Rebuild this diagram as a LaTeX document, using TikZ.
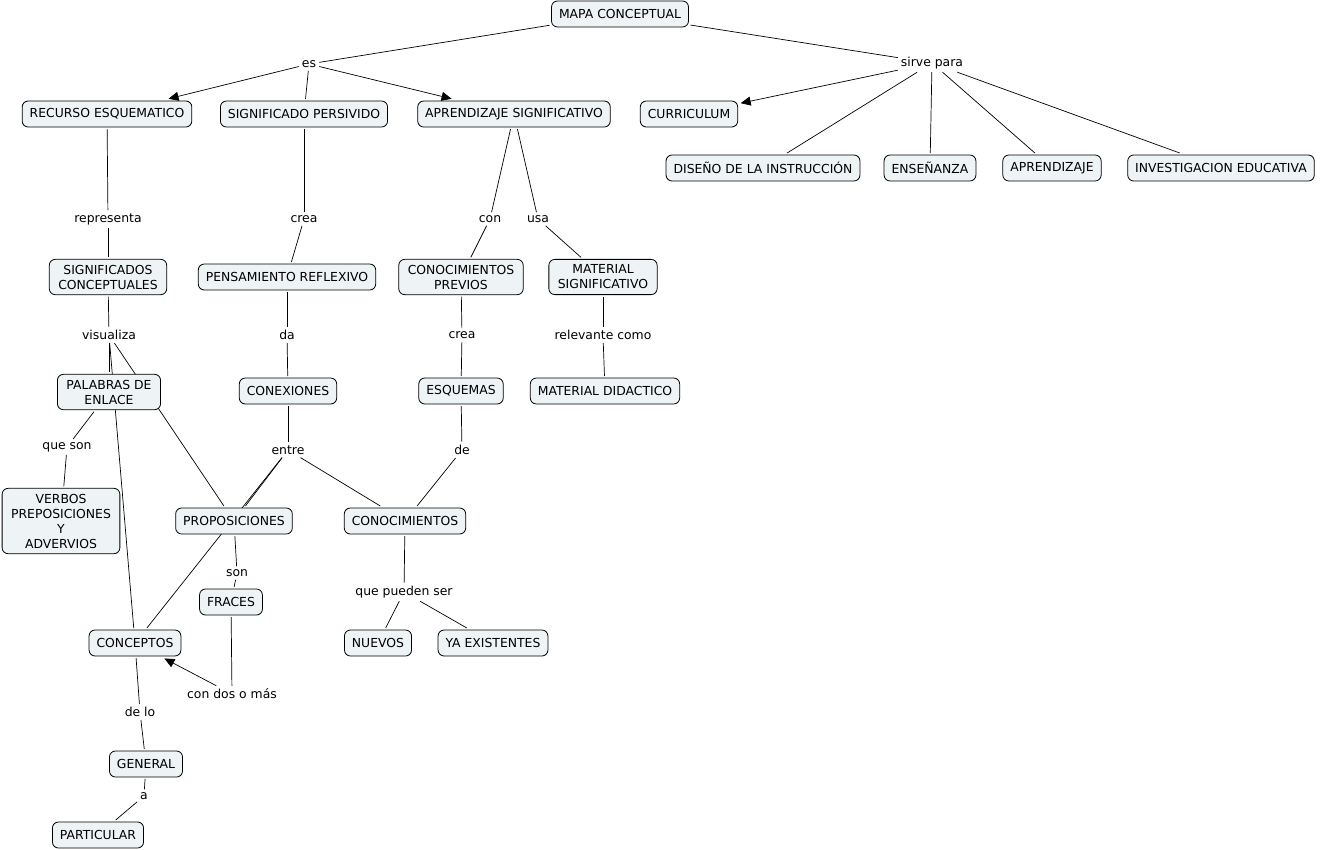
\documentclass[tikz,border=0pt]{standalone}
\usepackage{fontspec}
\setmainfont{DejaVu Sans}
\usetikzlibrary{arrows.meta}
\pgfdeclarelayer{bg}
\pgfsetlayers{bg,main}
\definecolor{cfill}{HTML}{EEF3F5}
\tikzset{
  concept/.style={draw=black, line width=0.8pt, fill=cfill, rounded corners=6pt,
    inner xsep=7.5pt, inner ysep=4pt, minimum height=26pt, outer sep=2pt,
    align=center, font=\fontsize{12.4}{15}\selectfont},
  multi/.style={inner xsep=9pt, inner ysep=5.5pt},
  phrase/.style={inner sep=3pt, yshift=-1pt, font=\fontsize{12.4}{15}\selectfont},
  link/.style={line width=0.7pt, black},
  arr/.style={link, -{Triangle[length=10pt,width=9pt]}, shorten >=1pt}
}
\begin{document}
\begin{tikzpicture}[x=1pt,y=-1pt]
\useasboundingbox (0,0) rectangle (1320,849);
% concepts
\node[concept] (mapa) at (620,14) {MAPA CONCEPTUAL};
\node[concept] (recurso) at (107,114) {RECURSO ESQUEMATICO};
\node[concept] (signif) at (304,114) {SIGNIFICADO PERSIVIDO};
\node[concept] (aprend) at (514,114) {APRENDIZAJE SIGNIFICATIVO};
\node[concept] (curric) at (689,114) {CURRICULUM};
\node[concept] (diseno) at (763,168) {DISEÑO DE LA INSTRUCCIÓN};
\node[concept] (ensen) at (930,168) {ENSEÑANZA};
\node[concept] (aprendizaje) at (1052,168) {APRENDIZAJE};
\node[concept] (invest) at (1221,168) {INVESTIGACION EDUCATIVA};
\node[concept,multi] (sigcon) at (108,277) {SIGNIFICADOS\\CONCEPTUALES};
\node[concept] (pensam) at (287,277) {PENSAMIENTO REFLEXIVO};
\node[concept,multi] (conprev) at (461,277) {CONOCIMIENTOS\\PREVIOS};
\node[concept,multi] (matsig) at (603,277) {MATERIAL\\SIGNIFICATIVO};
\node[concept,multi] (palabras) at (109,392) {PALABRAS DE\\ENLACE};
\node[concept] (conex) at (288,391) {CONEXIONES};
\node[concept] (esquemas) at (461,391) {ESQUEMAS};
\node[concept] (matdid) at (605,391) {MATERIAL DIDACTICO};
\node[concept,multi] (verbos) at (61,521) {VERBOS\\PREPOSICIONES\\Y\\ADVERVIOS};
\node[concept] (propos) at (234,521) {PROPOSICIONES};
\node[concept] (conoc) at (405,521) {CONOCIMIENTOS};
\node[concept] (fraces) at (231,602) {FRACES};
\node[concept] (conceptos) at (135,643) {CONCEPTOS};
\node[concept] (nuevos) at (378,643) {NUEVOS};
\node[concept] (yaex) at (493,643) {YA EXISTENTES};
\node[concept] (general) at (146,764) {GENERAL};
\node[concept] (particular) at (98,835) {PARTICULAR};
% linking phrases
\node[phrase] (es) at (309,63) {es};
\node[phrase] (sirve) at (932,62) {sirve para};
\node[phrase] (representa) at (108,218) {representa};
\node[phrase] (crea1) at (304,218) {crea};
\node[phrase] (con) at (490,218) {con};
\node[phrase] (usa) at (538,218) {usa};
\node[phrase] (visualiza) at (109,334) {visualiza};
\node[phrase] (da) at (287,334) {da};
\node[phrase] (crea2) at (462,334) {crea};
\node[phrase] (relev) at (603,334) {relevante como};
\node[phrase] (queson) at (67,446) {que son};
\node[phrase] (entre) at (288,449) {entre};
\node[phrase] (de) at (462,449) {de};
\node[phrase] (son) at (237,572) {son};
\node[phrase] (quepueden) at (404,591) {que pueden ser};
\node[phrase] (condos) at (232,693) {con dos o más};
\node[phrase] (delo) at (140,711) {de lo};
\node[phrase] (a) at (144,795) {a};
% connectors
\begin{pgfonlayer}{bg}
\draw[link] (mapa) -- (es);
\draw[arr] (es) -- (recurso);
\draw[link] (es) -- (signif);
\draw[arr] (es) -- (aprend);
\draw[link] (mapa) -- (sirve);
\draw[arr] (sirve) -- (curric);
\draw[link] (sirve) -- (diseno);
\draw[link] (sirve) -- (ensen);
\draw[link] (sirve) -- (aprendizaje);
\draw[link] (sirve) -- (invest);
\draw[link] (recurso) -- (representa);
\draw[link] (representa) -- (sigcon);
\draw[link] (signif) -- (crea1);
\draw[link] (crea1) -- (pensam);
\draw[link] (aprend) -- (con);
\draw[link] (con) -- (conprev);
\draw[link] (aprend) -- (usa);
\draw[link] (usa) -- (matsig);
\draw[link] (sigcon) -- (visualiza);
\draw[link] (visualiza) -- (palabras);
\draw[link] (visualiza) -- (conceptos);
\draw[link] (visualiza) -- (propos);
\draw[link] (pensam) -- (da);
\draw[link] (da) -- (conex);
\draw[link] (conprev) -- (crea2);
\draw[link] (crea2) -- (esquemas);
\draw[link] (matsig) -- (relev);
\draw[link] (relev) -- (matdid);
\draw[link] (palabras) -- (queson);
\draw[link] (queson) -- (verbos);
\draw[link] (conex) -- (entre);
\draw[link] (entre) -- (propos);
\draw[link] (entre) -- (conoc);
\draw[link] (entre) -- (conceptos);
\draw[link] (esquemas) -- (de);
\draw[link] (de) -- (conoc);
\draw[link] (propos) -- (son);
\draw[link] (son) -- (fraces);
\draw[link] (fraces) -- (condos);
\draw[arr] (condos) -- (conceptos);
\draw[link] (conoc) -- (quepueden);
\draw[link] (quepueden) -- (nuevos);
\draw[link] (quepueden) -- (yaex);
\draw[link] (conceptos) -- (delo);
\draw[link] (delo) -- (general);
\draw[link] (general) -- (a);
\draw[link] (a) -- (particular);
\end{pgfonlayer}
\end{tikzpicture}
\end{document}
